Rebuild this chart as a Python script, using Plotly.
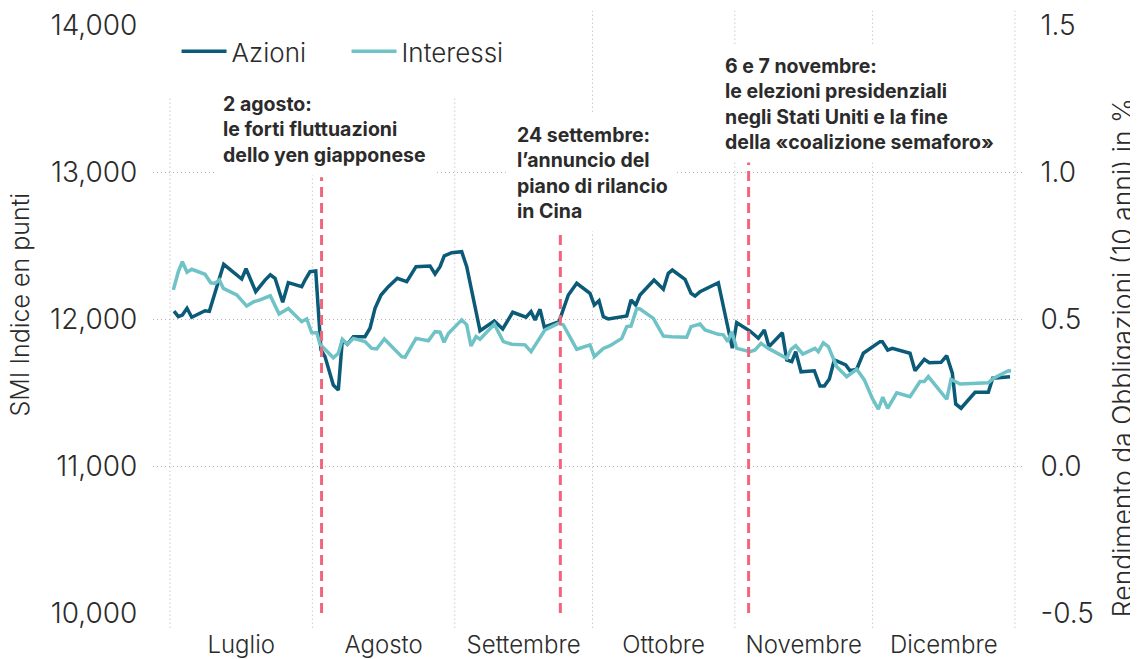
import pandas as pd
import plotly.graph_objects as go

# ---------------- data ----------------
start = pd.Timestamp("2024-07-01")

# SMI (Azioni): days since 1 July 2024, index points
azioni_giorni = [0.87, 1.81, 2.68, 3.70, 4.73, 5.81, 7.62, 8.56, 10.52, 11.69, 13.44, 15.61, 16.55,
                 18.66, 20.69, 21.84, 22.87, 24.54, 25.76, 28.68, 29.40, 30.49, 31.73, 32.88, 33.75,
                 35.56, 36.65, 37.52, 38.61, 39.92, 42.46, 43.55, 44.64, 45.95, 47.54, 49.50, 51.55,
                 53.57, 56.62, 57.71, 58.80, 59.73, 61.35, 63.52, 64.61, 67.51, 70.62, 72.45, 74.63,
                 77.53, 78.62, 79.49, 80.58, 81.51, 84.71, 86.74, 88.57, 90.37, 91.46, 92.40, 93.42,
                 94.36, 95.45, 99.46, 100.39, 101.42, 102.35, 105.40, 107.43, 108.51, 109.39, 112.15,
                 113.46, 114.33, 115.42, 119.40, 122.45, 123.41, 126.31, 128.12, 129.42, 130.44,
                 133.34, 134.30, 135.39, 136.26, 137.41, 140.31, 141.55, 142.49, 143.58, 144.66,
                 147.15, 148.08, 149.54, 150.98, 153.16, 154.62, 155.12, 156.29, 157.29, 161.15,
                 162.24, 164.26, 165.35, 167.90, 169.14, 170.36, 171.10, 172.26, 175.31, 178.20,
                 179.16, 181.12, 182.93]
azioni_valori = [12054, 12016, 12027, 12073, 12012, 12029, 12056, 12052, 12243, 12372, 12327, 12272, 12342,
                 12186, 12265, 12301, 12277, 12114, 12247, 12220, 12265, 12322, 12327, 11789, 11744,
                 11551, 11517, 11857, 11828, 11880, 11880, 11937, 12073, 12163, 12220, 12277, 12254,
                 12356, 12361, 12306, 12356, 12429, 12451, 12458, 12356, 11920, 11986, 11932, 12046,
                 12012, 12050, 11993, 12066, 11944, 11982, 12163, 12243, 12202, 12175, 12095, 12124,
                 12016, 12000, 12020, 12129, 12095, 12163, 12265, 12202, 12311, 12333, 12270,
                 12175, 12156, 12186, 12247, 11801, 11975, 11918, 11869, 11925, 11812,
                 11907, 11721, 11710, 11778, 11641, 11648, 11544, 11544, 11592, 11721,
                 11687, 11648, 11658, 11767, 11816, 11846, 11846, 11789, 11801, 11767,
                 11648, 11726, 11703, 11705, 11750, 11631, 11422, 11393, 11501, 11501,
                 11597, 11603, 11607]

# Rendimento obbligazioni 10 anni (Interessi), %
interessi_giorni = [0.72, 1.81, 2.68, 3.70, 4.73, 7.62, 8.86, 9.80, 10.74, 11.61, 14.53, 16.70, 18.14,
                    19.60, 21.84, 23.74, 25.76, 28.68, 29.77, 30.86, 31.95, 32.67, 35.56, 36.65, 37.52,
                    38.61, 39.92, 42.46, 43.92, 45.01, 46.67, 50.46, 51.18, 53.57, 56.25, 57.71, 58.80,
                    59.67, 60.61, 62.06, 63.52, 64.61, 65.55, 66.64, 67.51, 70.62, 72.58, 74.41, 77.31,
                    78.62, 81.66, 84.56, 85.65, 88.57, 91.46, 92.40, 94.36, 95.82, 98.37, 99.46, 100.39,
                    101.63, 102.35, 105.25, 106.34, 107.43, 109.26, 112.52, 113.46, 115.42, 116.51,
                    119.40, 120.49, 121.45, 122.32, 123.41, 126.31, 127.40, 128.70, 130.29, 134.30,
                    135.23, 136.26, 137.80, 140.46, 141.18, 142.27, 143.36, 145.19, 147.37, 149.54,
                    151.20, 152.94, 154.25, 155.21, 156.29, 158.25, 161.15, 163.33, 164.26, 165.14,
                    169.14, 170.08, 172.04, 178.20, 179.29, 181.12, 182.56, 183.15]
interessi_valori = [0.599, 0.661, 0.695, 0.659, 0.669, 0.652, 0.623, 0.621, 0.633, 0.604, 0.582, 0.544, 0.558,
                    0.565, 0.579, 0.517, 0.536, 0.491, 0.500, 0.453, 0.453, 0.414, 0.368, 0.383, 0.431,
                    0.414, 0.434, 0.423, 0.400, 0.398, 0.432, 0.372, 0.370, 0.434, 0.426, 0.457, 0.455,
                    0.421, 0.451, 0.476, 0.497, 0.480, 0.408, 0.440, 0.431, 0.482, 0.423, 0.414, 0.412,
                    0.389, 0.463, 0.485, 0.480, 0.397, 0.412, 0.372, 0.400, 0.409, 0.434, 0.474, 0.476,
                    0.536, 0.534, 0.502, 0.474, 0.442, 0.440, 0.438, 0.474, 0.483, 0.463,
                    0.448, 0.446, 0.423, 0.457, 0.400, 0.389, 0.395, 0.417, 0.400, 0.366,
                    0.397, 0.409, 0.381, 0.400, 0.389, 0.419, 0.406, 0.338, 0.304, 0.329,
                    0.293, 0.230, 0.193, 0.234, 0.196, 0.249, 0.236, 0.287, 0.287, 0.304,
                    0.227, 0.295, 0.279, 0.283, 0.298, 0.313, 0.324, 0.323]

mesi_inizio = ["2024-07-01", "2024-08-01", "2024-09-01", "2024-10-01", "2024-11-01", "2024-12-01", "2025-01-01"]
mesi_centro = ["2024-07-16 12:00", "2024-08-16 12:00", "2024-09-16", "2024-10-16 12:00", "2024-11-16", "2024-12-16 12:00"]
mesi_nomi = ["Luglio", "Agosto", "Settembre", "Ottobre", "Novembre", "Dicembre"]

y_tick_vals = [10000, 11000, 12000, 13000, 14000]
y2_tick_vals = [-0.5, 0.0, 0.5, 1.0, 1.5]
y2_tick_text = ["-0.5", "0.0", "0.5", "1.0", "1.5"]

titolo_y = "SMI Indice en punti"
titolo_y2 = "Rendimento da Obbligazioni (10 anni) in %"

eventi_date = ["2024-08-03", "2024-09-24", "2024-11-04"]
eventi_testi = [
    "2 agosto:<br>le forti fluttuazioni<br>dello yen giapponese",
    "24 settembre:<br>l’annuncio del<br>piano di rilancio<br>in Cina",
    "6 e 7 novembre:<br>le elezioni presidenziali<br>negli Stati Uniti e la fine<br>della «coalizione semaforo»",
]

# ---------------- style ----------------
C_AZ = "#0b5a78"
C_INT = "#6fc2c6"
C_EV = "#f0667d"
C_GRID = "#b4b4b4"
C_TXT = "#2b2b2b"
FONT = "Inter"

azioni_x = start + pd.to_timedelta(azioni_giorni, unit="D")
interessi_x = start + pd.to_timedelta(interessi_giorni, unit="D")

fig = go.Figure()
fig.add_trace(go.Scatter(x=azioni_x, y=azioni_valori, name="Azioni", mode="lines",
                         line=dict(color=C_AZ, width=3.5)))
fig.add_trace(go.Scatter(x=interessi_x, y=interessi_valori, name="Interessi", mode="lines",
                         line=dict(color=C_INT, width=3.5), yaxis="y2"))

# vertical month grid lines (extend slightly beyond plot)
for d in mesi_inizio:
    fig.add_shape(type="line", xref="x", yref="paper", x0=d, x1=d, y0=-0.025, y1=1.024,
                  line=dict(color=C_GRID, width=1, dash="1px,3px"), layer="below")

# white box behind the legend
fig.add_shape(type="rect", xref="paper", yref="paper", x0=-0.01, x1=0.449, y0=0.879, y1=1.06,
              fillcolor="white", line=dict(width=0), layer="between")

# event lines + labels
ev_top = [0.741, 0.655, 0.770]  # paper fraction where each dashed line starts
ann_pos = [(0.070, 0.901), (0.407, 0.849), (0.646, 0.966)]
for d, top, txt, (ax_, ay_) in zip(eventi_date, ev_top, eventi_testi, ann_pos):
    fig.add_shape(type="line", xref="x", yref="paper", x0=d, x1=d, y0=0, y1=top,
                  line=dict(color=C_EV, width=3, dash="10px,6px"), layer="above")
    fig.add_annotation(xref="paper", yref="paper", x=ax_, y=ay_, xanchor="left", yanchor="top",
                       text=txt, showarrow=False, align="left", bgcolor="white", borderpad=8,
                       font=dict(family=FONT, size=19.5, color=C_TXT, weight="bold"))

# axis titles
fig.add_annotation(xref="paper", yref="paper", x=-0.153, y=0.524, xanchor="center", yanchor="middle",
                   text=titolo_y, textangle=-90, showarrow=False,
                   font=dict(family=FONT, size=25, color=C_TXT, weight=300))
fig.add_annotation(xref="paper", yref="paper", x=1.1112, y=0.435, xanchor="center", yanchor="middle",
                   text=titolo_y2, textangle=-90, showarrow=False,
                   font=dict(family=FONT, size=26.5, color=C_TXT, weight=300))

fig.update_layout(
    width=1130, height=651,
    margin=dict(l=145, r=113, t=17, b=46, autoexpand=False),
    paper_bgcolor="white", plot_bgcolor="white",
    font=dict(family=FONT, color=C_TXT),
    showlegend=True,
    legend=dict(orientation="h", x=0.027, y=0.955, xanchor="left", yanchor="middle",
                bgcolor="rgba(0,0,0,0)", font=dict(family=FONT, size=26, color=C_TXT, weight=300),
                entrywidth=110, entrywidthmode="pixels", itemwidth=45),
    xaxis=dict(type="date", range=["2024-06-27 07:00", "2025-01-03 04:30"],
               tickvals=mesi_centro, ticktext=mesi_nomi, showgrid=False, zeroline=False,
               showline=False, ticks="outside", ticklen=10, tickcolor="rgba(0,0,0,0)",
               tickfont=dict(family=FONT, size=24, color=C_TXT, weight=300)),
    yaxis=dict(range=[10000, 14000], tickvals=y_tick_vals, tickformat=",d",
               showgrid=True, gridcolor=C_GRID, griddash="1px,3px", gridwidth=1, zeroline=False,
               ticks="outside", ticklen=9, tickcolor="rgba(0,0,0,0)", ticklabeloverflow="allow",
               tickfont=dict(family=FONT, size=28, color=C_TXT, weight=300)),
    yaxis2=dict(range=[-0.5, 1.5], overlaying="y", side="right", tickvals=y2_tick_vals,
                ticktext=y2_tick_text, showgrid=False, zeroline=False,
                ticks="outside", ticklen=9, tickcolor="rgba(0,0,0,0)", ticklabeloverflow="allow",
                tickfont=dict(family=FONT, size=28, color=C_TXT, weight=300)),
)

fig.write_html("out.html")
